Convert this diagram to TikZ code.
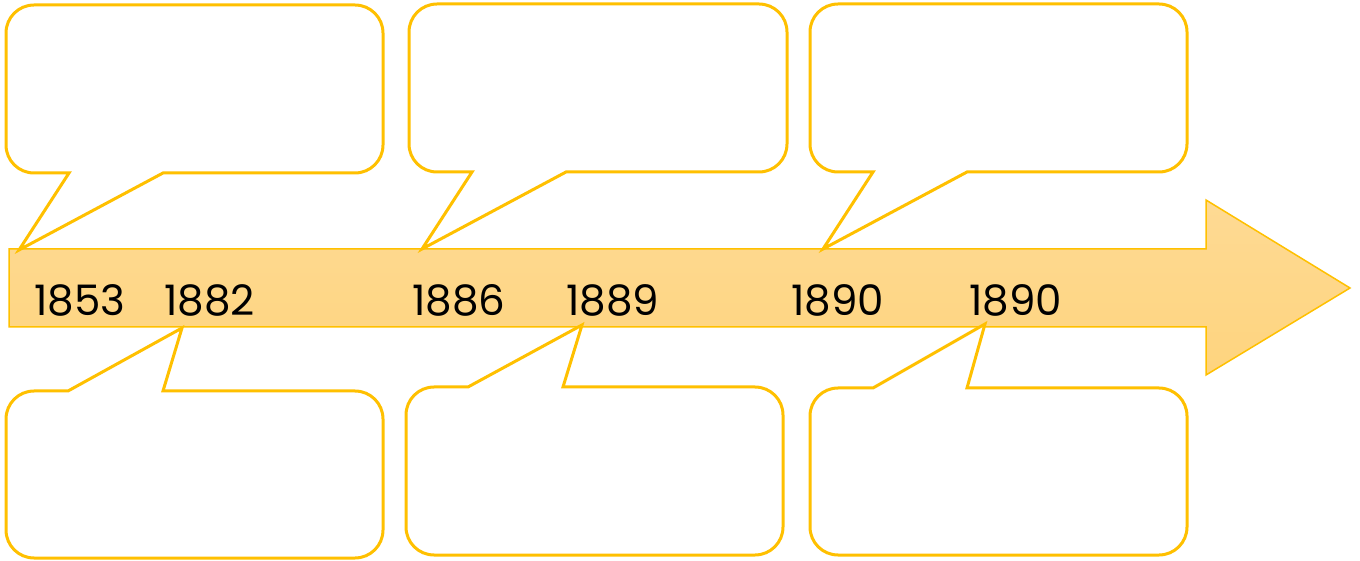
\documentclass[tikz,border=0pt]{standalone}
\usepackage{fontspec}
\setmainfont{Poppins}
\definecolor{gold}{RGB}{255,192,0}
\definecolor{arrtop}{RGB}{254,218,148}
\definecolor{arrbot}{RGB}{254,212,126}
\newcommand{\topcallout}[8]{%
  \draw[calloutline] (#5,#3) -- (#6,#7) -- (#8,#3) -- ({#2-28},#3)
    arc[start angle=270,end angle=360,radius=28] -- (#2,{#4-28})
    arc[start angle=0,end angle=90,radius=28] -- ({#1+28},#4)
    arc[start angle=90,end angle=180,radius=28] -- (#1,{#3+28})
    arc[start angle=180,end angle=270,radius=28] -- cycle;}
\newcommand{\botcallout}[8]{%
  \draw[calloutline] (#5,#4) -- (#6,#7) -- (#8,#4) -- ({#1+28},#4)
    arc[start angle=90,end angle=180,radius=28] -- (#1,{#3+28})
    arc[start angle=180,end angle=270,radius=28] -- ({#2-28},#3)
    arc[start angle=270,end angle=360,radius=28] -- (#2,{#4-28})
    arc[start angle=0,end angle=90,radius=28] -- cycle;}
\begin{document}
\begin{tikzpicture}[x=1pt,y=1pt,
  calloutline/.style={draw=gold,line width=3pt,line join=miter,fill=white},
  timearrow/.style={draw=gold,line width=1.5pt,top color=arrtop,bottom color=arrbot},
  year/.style={anchor=base west,inner sep=0pt,font=\fontsize{42}{42}\selectfont,text=black}]
\useasboundingbox (0,0) rectangle (1360,560);
% timeline arrow
\path[timearrow] (9,311) -- (1206,311) -- (1206,360) -- (1350,272) -- (1206,185) -- (1206,233) -- (9,233) -- cycle;
% top callouts
\topcallout{6}{383}{387}{555}{69}{19}{310}{163}
\topcallout{409}{787}{388}{556}{472}{422}{311}{566}
\topcallout{810}{1187}{388}{556}{873}{823}{311}{967}
% bottom callouts
\botcallout{6}{383}{2}{169}{163}{182}{232}{68}
\botcallout{406}{783}{5}{173}{563}{582}{235}{468}
\botcallout{810}{1187}{5}{172}{967}{985}{236}{873}
% years
\node[year] (y1) at (34,244) {1853};
\node[year] (y2) at (164,244) {1882};
\node[year] (y3) at (412,244) {1886};
\node[year] (y4) at (566,244) {1889};
\node[year] (y5) at (791,244) {1890};
\node[year] (y6) at (969,244) {1890};
\end{tikzpicture}
\end{document}
